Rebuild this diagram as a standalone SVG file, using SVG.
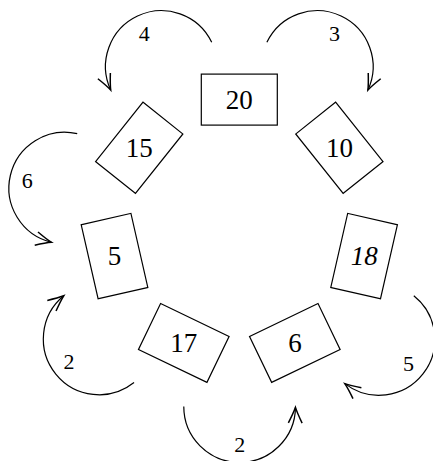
<svg xmlns="http://www.w3.org/2000/svg" width="433" height="461" viewBox="0 0 433 461">
<style>
.box{fill:none;stroke:#000;stroke-width:1.2}
.lbl{font-family:"Liberation Serif","DejaVu Serif",serif;font-size:27px;text-anchor:middle;fill:#000}
.el{font-family:"Liberation Serif","DejaVu Serif",serif;font-size:22px;text-anchor:middle;fill:#000}
.arc{fill:none;stroke:#000;stroke-width:1.2;marker-end:url(#ah)}
</style>
<defs>
<marker id="ah" markerUnits="userSpaceOnUse" markerWidth="20" markerHeight="20" refX="0" refY="0" viewBox="-14 -8 16 16" orient="auto" overflow="visible">
<path d="M -12.5,-5.5 Q -4.5,-1.5 0,0 Q -4.5,1.5 -12.5,5.5" fill="none" stroke="#000" stroke-width="1.2"/>
</marker>
<path id="ccw" d="M 211.7 42.3 A 55.85 55.85 0 0 0 110.7 90"/>
<path id="cw" d="M 266.9 42.3 A 55.85 55.85 0 0 1 367.9 90"/>
</defs>
<g id="connectors">
<use href="#ccw" class="arc"/>
<use href="#cw" class="arc"/>
<use href="#ccw" class="arc" transform="rotate(-51.43 239.3 227.6)"/>
<use href="#cw" class="arc" transform="rotate(205.71 239.3 227.6)"/>
<use href="#ccw" class="arc" transform="rotate(205.71 239.3 227.6)"/>
<use href="#cw" class="arc" transform="rotate(102.86 239.3 227.6)"/>
<text class="el" x="144.2" y="40.5">4</text>
<text class="el" x="334.4" y="40.5">3</text>
<text class="el" x="27.2" y="188.3">6</text>
<text class="el" x="69" y="369.3">2</text>
<text class="el" x="239.8" y="452">2</text>
<text class="el" x="408.5" y="370.5">5</text>
</g>
<g id="n20"><rect class="box" x="201.3" y="74.1" width="76" height="51"/><text class="lbl" x="239.3" y="108.8">20</text></g>
<g id="n10"><rect class="box" x="201.3" y="74.1" width="76" height="51" transform="rotate(51.43 239.3 227.6)"/><text class="lbl" x="339.45" y="157">10</text></g>
<g id="n18"><rect class="box" x="201.3" y="74.1" width="76" height="51" transform="rotate(102.86 239.3 227.6)"/><text class="lbl" x="364.18" y="265.4" font-style="italic">18</text></g>
<g id="n6"><rect class="box" x="201.3" y="74.1" width="76" height="51" transform="rotate(154.29 239.3 227.6)"/><text class="lbl" x="294.88" y="352.3">6</text></g>
<g id="n17"><rect class="box" x="201.3" y="74.1" width="76" height="51" transform="rotate(205.71 239.3 227.6)"/><text class="lbl" x="183.72" y="352.3">17</text></g>
<g id="n5"><rect class="box" x="201.3" y="74.1" width="76" height="51" transform="rotate(257.14 239.3 227.6)"/><text class="lbl" x="114.42" y="265.4">5</text></g>
<g id="n15"><rect class="box" x="201.3" y="74.1" width="76" height="51" transform="rotate(308.57 239.3 227.6)"/><text class="lbl" x="139.15" y="157">15</text></g>
</svg>
